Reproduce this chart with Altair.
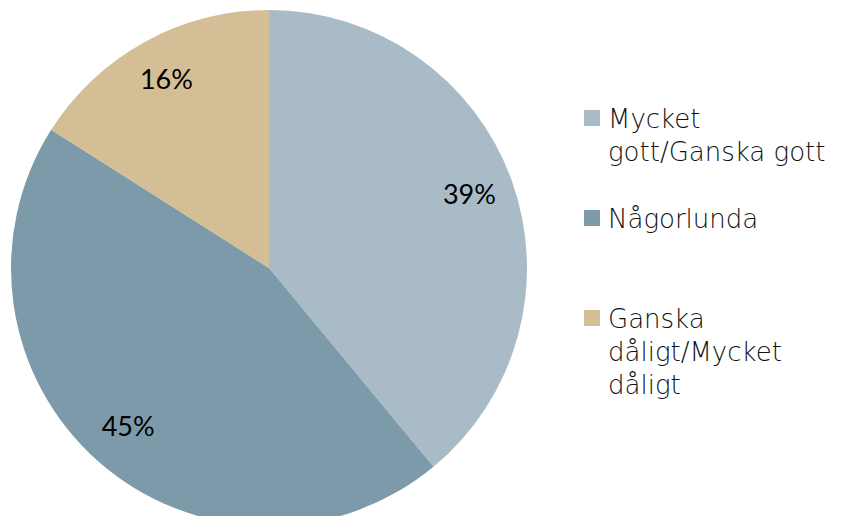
import altair as alt
import pandas as pd

categories = ["Mycket gott/Ganska gott", "Någorlunda", "Ganska dåligt/Mycket dåligt"]
legend_labels = ["Mycket\ngott/Ganska gott", "Någorlunda", "Ganska\ndåligt/Mycket\ndåligt"]
values = [39, 45, 16]
pct_labels = ["39%", "45%", "16%"]
colors = ["#A8BBC6", "#7D9AAA", "#D3BE95"]

df = pd.DataFrame({
    "cat": categories,
    "legend": legend_labels,
    "value": values,
    "pct": pct_labels,
    "idx": list(range(len(categories))),
})

color = alt.Color("cat:N", scale=alt.Scale(domain=categories, range=colors), legend=None)

base = alt.Chart(df).encode(
    theta=alt.Theta("value:Q", stack=True),
    order=alt.Order("idx:Q"),
)

arcs = base.mark_arc(stroke=None).encode(
    color=color,
    x=alt.value(261),
    y=alt.value(260),
    radius=alt.value(258),
)

labels = base.mark_text(font="Lato", fontSize=27, color="#000000").encode(
    text="pct:N",
    x=alt.value(261),
    y=alt.value(260),
    radius=alt.value(213),
)

yscale = alt.Scale(type="point", domain=categories, range=[110, 310], padding=0)

squares = alt.Chart(df).mark_point(shape="square", filled=True, size=256, opacity=1).encode(
    x=alt.value(584),
    y=alt.Y("cat:N", scale=yscale, axis=None),
    color=color,
)

leg_text = alt.Chart(df).mark_text(
    font="DejaVu Sans", fontSize=26, fontWeight=200, align="left", baseline="alphabetic",
    lineBreak="\n", lineHeight=33, dy=10, color="#111111"
).encode(
    x=alt.value(600),
    y=alt.Y("cat:N", scale=yscale, axis=None),
    text="legend:N",
)

chart = alt.layer(arcs, labels, squares, leg_text).properties(
    width=829, height=508, autosize=alt.AutoSizeParams(type="none"), padding=0
).configure_view(stroke=None)

chart.save("out.html", embed_options={"renderer": "svg", "actions": False})
